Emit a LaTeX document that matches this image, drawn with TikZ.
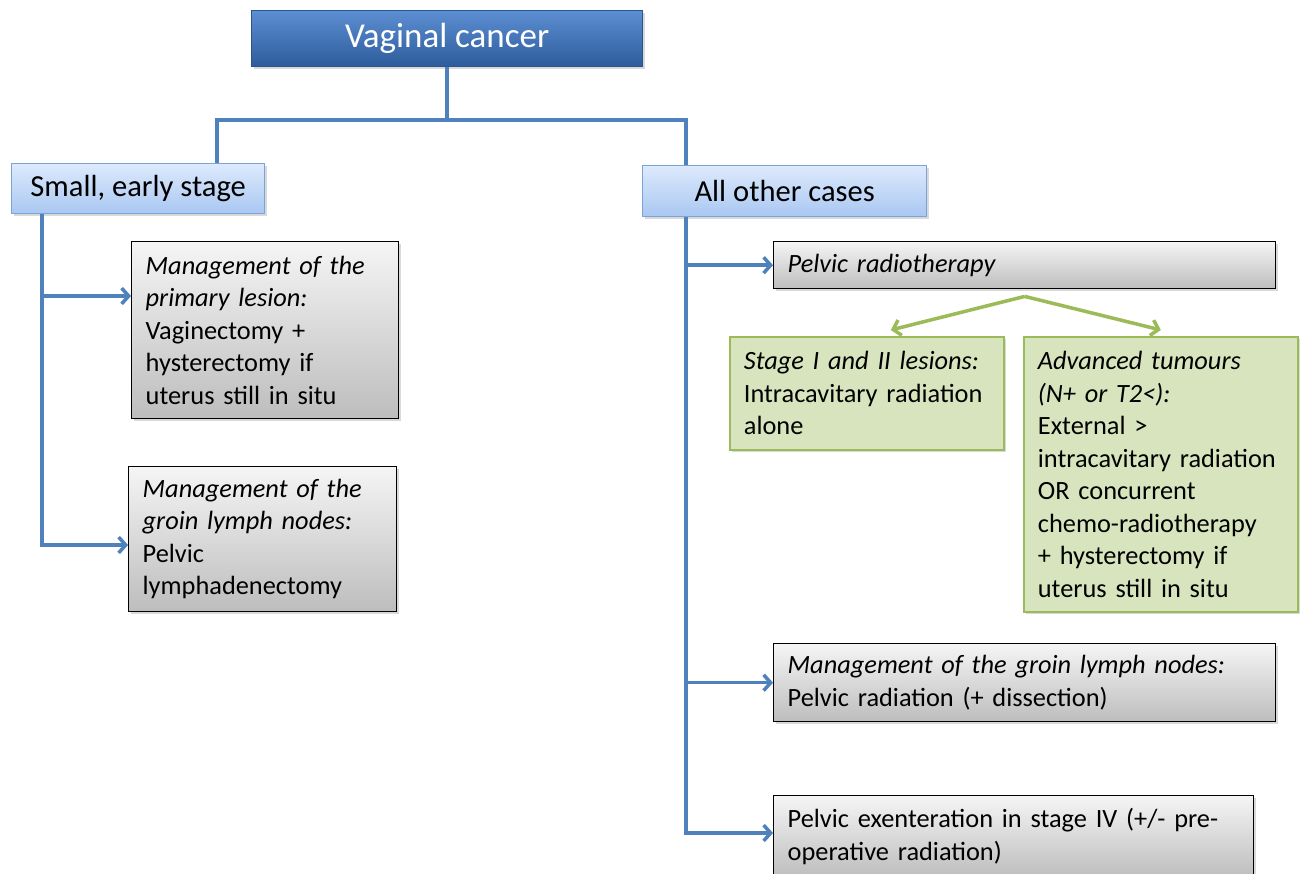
\documentclass[tikz,border=0pt]{standalone}
\usepackage{fontspec}
\setmainfont{Carlito}
\usetikzlibrary{arrows.meta,shadows,calc}

\hyphenpenalty=10000
\exhyphenpenalty=10000

\definecolor{linkblue}{HTML}{4F81BD}
\definecolor{titletop}{HTML}{5C8ED2}
\definecolor{titlebot}{HTML}{2D5C9C}
\definecolor{titleedge}{HTML}{2A5490}
\definecolor{casetop}{HTML}{DDEAFC}
\definecolor{casebot}{HTML}{A9C7F2}
\definecolor{caseedge}{HTML}{7CA3D8}
\definecolor{greytop}{HTML}{F5F5F5}
\definecolor{greybot}{HTML}{BDBDBD}
\definecolor{leafgreen}{HTML}{9BBB59}
\definecolor{palegreen}{HTML}{D8E4BD}

\tikzset{
    box/.style={anchor=north west, inner xsep=0.28cm, inner ysep=0pt,
        font=\fontsize{15}{18.5}\selectfont,
        drop shadow={opacity=0.3, shadow xshift=0.05cm, shadow yshift=-0.05cm}},
    titlebox/.style={box, align=center, draw=titleedge, line width=0.8pt,
        top color=titletop, bottom color=titlebot, text=white,
        font=\fontsize{19.9}{22}\selectfont},
    casebox/.style={box, align=center, draw=caseedge, line width=0.8pt,
        top color=casetop, bottom color=casebot,
        font=\fontsize{17.4}{20}\selectfont},
    greybox/.style={box, align=left, draw=black, line width=0.8pt,
        top color=greytop, bottom color=greybot},
    greenbox/.style={box, align=left, draw=leafgreen, line width=1pt,
        fill=palegreen},
    conn/.style={draw=linkblue, line width=2pt},
    sprout/.style={draw=leafgreen, line width=2pt},
    >={Straight Barb[length=4pt,width=9pt]}
}

\begin{document}
\begin{tikzpicture}[x=0.02cm, y=-0.02cm]
    \useasboundingbox (0,0) rectangle (1304,874);

    % top level
    \node [titlebox, minimum width=7.82cm, minimum height=1.12cm] (title) at (251,10) {Vaginal cancer};
    \node [casebox, minimum width=5.06cm, minimum height=1.0cm] (small) at (11,163) {Small, early stage};
    \node [casebox, minimum width=5.68cm, minimum height=1.02cm] (other) at (642,165) {All other cases};

    % left branch
    \node [greybox, text width=4.78cm, minimum height=3.54cm] (primary) at (131,241)
        {\textit{Management of the}\\ \textit{primary lesion:}\\ Vaginectomy +\\ hysterectomy if\\ uterus still in situ};
    \node [greybox, text width=4.80cm, minimum height=2.9cm] (groinL) at (128,466)
        {\textit{Management of the}\\ \textit{groin lymph nodes:}\\ Pelvic\\ lymphadenectomy};

    % right branch
    \node [greybox, text width=9.48cm, minimum height=0.94cm] (radio) at (773,241)
        {\textit{Pelvic radiotherapy}};
    \node [greenbox, text width=4.92cm, minimum height=2.26cm] (stageI) at (729,336)
        {\textit{Stage I and II lesions:}\\ Intracavitary radiation\\ alone};
    \node [greenbox, text width=4.92cm, minimum height=5.5cm] (advanced) at (1023,336)
        {\textit{Advanced tumours}\\ \textit{(N+ or T2<):}\\ External >\\ intracavitary radiation\\ OR concurrent\\ chemo-radiotherapy\\ + hysterectomy if\\ uterus still in situ};
    \node [greybox, text width=9.48cm, minimum height=1.56cm] (groinR) at (773,643)
        {\textit{Management of the groin lymph nodes:}\\ Pelvic radiation (+ dissection)};
    \node [greybox, text width=9.04cm, minimum height=1.64cm] (exent) at (773,795)
        {Pelvic exenteration in stage IV (+/- pre-\\ operative radiation)};

    % connectors
    \coordinate (lbranch) at (217,120);
    \coordinate (rbranch) at (686,120);
    \draw [conn] (title.south) |- (lbranch) -- (lbranch |- small.north);
    \draw [conn] (title.south) |- (rbranch) -- (rbranch |- other.north);

    \coordinate (lknee) at (42,296);
    \coordinate (lfoot) at (42,545);
    \draw [conn, ->] (lfoot |- small.south) -- (lfoot) -- (groinL.west |- lfoot);
    \draw [conn, ->] (lknee) -- (primary.west |- lknee);

    \coordinate (rfoot) at (686,833);
    \draw [conn, ->] (rfoot |- other.south) -- (rfoot) -- (exent.west |- rfoot);
    \draw [conn, ->] (radio.west -| rfoot) -- (radio.west);
    \draw [conn, ->] (groinR.west -| rfoot) -- (groinR.west);

    \draw [sprout, ->] ($(radio.south)+(0,7)$) -- ($(stageI.north)+(24,-6)$);
    \draw [sprout, ->] ($(radio.south)+(0,7)$) -- ($(advanced.north)+(0,-6)$);
\end{tikzpicture}
\end{document}
